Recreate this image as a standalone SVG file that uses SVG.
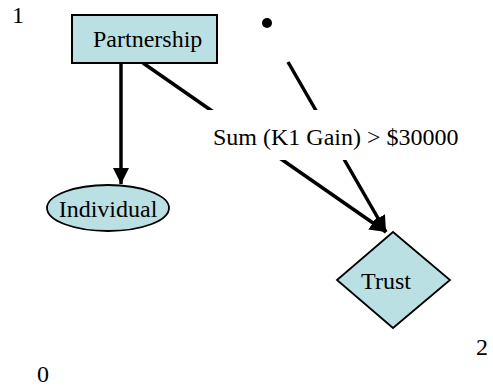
<svg xmlns="http://www.w3.org/2000/svg" width="493" height="389" viewBox="0 0 493 389">
<style>
.t{font-family:'Liberation Serif','Times New Roman',Times,serif;font-size:24px;fill:#000}
.node{fill:#BBE0E3;stroke:#000;stroke-width:2}
.edge{fill:none;stroke:#000;stroke-width:3.5}
</style>
<defs>
<marker id="ah" markerUnits="userSpaceOnUse" markerWidth="18" markerHeight="18" refX="16" refY="8" orient="auto">
<path d="M0,0 L16,8 L0,16 z" fill="#000"/>
</marker>
</defs>
<rect width="493" height="389" fill="#fff"/>
<g id="connectors">
<line class="edge" x1="121" y1="63" x2="121" y2="184" marker-end="url(#ah)"/>
<line class="edge" x1="143" y1="63" x2="386" y2="232" marker-end="url(#ah)"/>
<line class="edge" x1="288" y1="62" x2="386" y2="232" marker-end="url(#ah)"/>
<g id="edge-label">
<rect x="205" y="110" width="262" height="50" fill="#fff"/>
<text class="t" font-family="Liberation Serif, serif" x="213" y="145">Sum (K1 Gain) &gt; $30000</text>
</g>
</g>
<g id="partnership">
<rect class="node" x="72" y="15" width="145" height="48"/>
<text class="t" font-family="Liberation Serif, serif" x="93" y="47">Partnership</text>
</g>
<g id="individual">
<ellipse class="node" cx="108" cy="208" rx="61" ry="23" style="stroke-width:1.8"/>
<text class="t" font-family="Liberation Serif, serif" x="108" y="217" text-anchor="middle">Individual</text>
</g>
<g id="trust">
<polygon class="node" points="393,232 450,280 393,328 337,280" style="stroke-width:1.8"/>
<text class="t" font-family="Liberation Serif, serif" x="386" y="289" text-anchor="middle">Trust</text>
</g>
<g id="dot">
<circle cx="267" cy="23" r="5" fill="#000"/>
</g>
<g id="labels">
<text class="t" font-family="Liberation Serif, serif" x="12" y="23">1</text>
<text class="t" font-family="Liberation Serif, serif" x="37" y="382">0</text>
<text class="t" font-family="Liberation Serif, serif" x="476" y="355">2</text>
</g>
</svg>
